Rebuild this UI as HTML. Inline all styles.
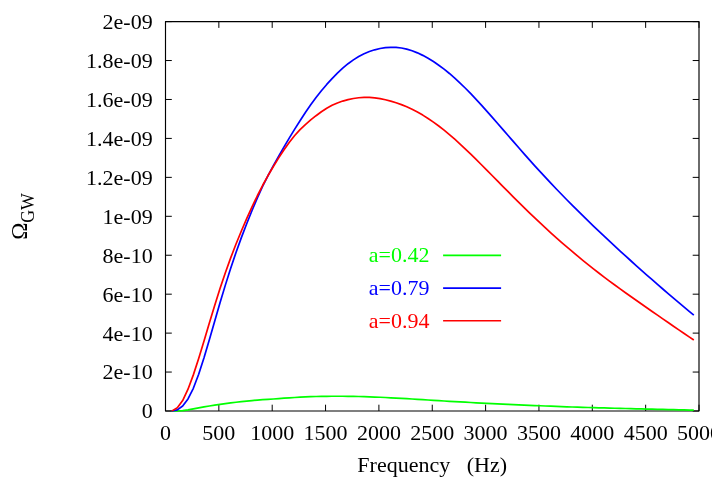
<!DOCTYPE html>
<html><head><meta charset="utf-8"><title>Omega GW</title>
<style>
html,body{margin:0;padding:0;background:#fff;}
svg{display:block;will-change:transform;}
text{font-family:"Liberation Serif",serif;}
</style></head><body>
<svg width="712" height="498" viewBox="0 0 712 498">
<rect x="0" y="0" width="712" height="498" fill="#fff"/>
<path d="M165.50,411.00h6.3 M699.00,411.00h-6.3 M165.50,372.06h6.3 M699.00,372.06h-6.3 M165.50,333.12h6.3 M699.00,333.12h-6.3 M165.50,294.18h6.3 M699.00,294.18h-6.3 M165.50,255.24h6.3 M699.00,255.24h-6.3 M165.50,216.30h6.3 M699.00,216.30h-6.3 M165.50,177.36h6.3 M699.00,177.36h-6.3 M165.50,138.42h6.3 M699.00,138.42h-6.3 M165.50,99.48h6.3 M699.00,99.48h-6.3 M165.50,60.54h6.3 M699.00,60.54h-6.3 M165.50,21.60h6.3 M699.00,21.60h-6.3 M165.50,411.00v-6.3 M165.50,21.60v6.3 M218.85,411.00v-6.3 M218.85,21.60v6.3 M272.20,411.00v-6.3 M272.20,21.60v6.3 M325.55,411.00v-6.3 M325.55,21.60v6.3 M378.90,411.00v-6.3 M378.90,21.60v6.3 M432.25,411.00v-6.3 M432.25,21.60v6.3 M485.60,411.00v-6.3 M485.60,21.60v6.3 M538.95,411.00v-6.3 M538.95,21.60v6.3 M592.30,411.00v-6.3 M592.30,21.60v6.3 M645.65,411.00v-6.3 M645.65,21.60v6.3 M699.00,411.00v-6.3 M699.00,21.60v6.3" stroke="#000" stroke-width="1.0" fill="none"/>
<path d="M165.5,21.6 H699.0 V411.0 H165.5 Z" stroke="#000" stroke-width="1.15" fill="none" stroke-linejoin="round"/>
<text x="152.7" y="418.40" font-size="22" text-anchor="end">0</text>
<text x="152.7" y="379.46" font-size="22" text-anchor="end">2e-10</text>
<text x="152.7" y="340.52" font-size="22" text-anchor="end">4e-10</text>
<text x="152.7" y="301.58" font-size="22" text-anchor="end">6e-10</text>
<text x="152.7" y="262.64" font-size="22" text-anchor="end">8e-10</text>
<text x="152.7" y="223.70" font-size="22" text-anchor="end">1e-09</text>
<text x="152.7" y="184.76" font-size="22" text-anchor="end">1.2e-09</text>
<text x="152.7" y="145.82" font-size="22" text-anchor="end">1.4e-09</text>
<text x="152.7" y="106.88" font-size="22" text-anchor="end">1.6e-09</text>
<text x="152.7" y="67.94" font-size="22" text-anchor="end">1.8e-09</text>
<text x="152.7" y="29.00" font-size="22" text-anchor="end">2e-09</text>
<text x="165.50" y="440.4" font-size="22" text-anchor="middle">0</text>
<text x="218.85" y="440.4" font-size="22" text-anchor="middle">500</text>
<text x="272.20" y="440.4" font-size="22" text-anchor="middle">1000</text>
<text x="325.55" y="440.4" font-size="22" text-anchor="middle">1500</text>
<text x="378.90" y="440.4" font-size="22" text-anchor="middle">2000</text>
<text x="432.25" y="440.4" font-size="22" text-anchor="middle">2500</text>
<text x="485.60" y="440.4" font-size="22" text-anchor="middle">3000</text>
<text x="538.95" y="440.4" font-size="22" text-anchor="middle">3500</text>
<text x="592.30" y="440.4" font-size="22" text-anchor="middle">4000</text>
<text x="645.65" y="440.4" font-size="22" text-anchor="middle">4500</text>
<text x="699.00" y="440.4" font-size="22" text-anchor="middle">5000</text>
<text x="432.2" y="472.4" font-size="22" text-anchor="middle" xml:space="preserve">Frequency   (Hz)</text>
<text transform="translate(27.1,239.7) rotate(-90)" font-size="23">Ω</text>
<text transform="translate(33.8,222.8) rotate(-90)" font-size="17.8">GW</text>
<text x="429.5" y="262.4" font-size="22" text-anchor="end" fill="#00ff00">a=0.42</text>
<path d="M443.1,255.3H501.1" stroke="#00ff00" stroke-width="1.7" fill="none"/>
<text x="429.5" y="295.2" font-size="22" text-anchor="end" fill="#0000ff">a=0.79</text>
<path d="M443.1,288.1H501.1" stroke="#0000ff" stroke-width="1.7" fill="none"/>
<text x="429.5" y="327.8" font-size="22" text-anchor="end" fill="#ff0000">a=0.94</text>
<path d="M443.1,320.75H501.1" stroke="#ff0000" stroke-width="1.7" fill="none"/>
<path d="M172.00,411.00 L177.34,411.00 L182.67,410.71 L188.01,409.87 L193.34,408.80 L198.68,407.82 L204.01,406.90 L209.35,405.98 L214.68,405.14 L220.02,404.35 L225.35,403.61 L230.69,402.90 L236.02,402.23 L241.36,401.60 L246.69,401.04 L252.03,400.53 L257.36,400.09 L262.70,399.70 L268.03,399.35 L273.37,398.98 L278.70,398.60 L284.04,398.22 L289.37,397.84 L294.71,397.49 L300.04,397.17 L305.38,396.90 L310.71,396.66 L316.05,396.49 L321.38,396.36 L326.72,396.28 L332.05,396.24 L337.39,396.24 L342.72,396.26 L348.06,396.31 L353.39,396.40 L358.73,396.52 L364.06,396.66 L369.40,396.83 L374.73,397.04 L380.07,397.26 L385.40,397.52 L390.74,397.79 L396.07,398.08 L401.41,398.38 L406.74,398.70 L412.08,399.02 L417.41,399.35 L422.75,399.68 L428.08,400.01 L433.42,400.34 L438.75,400.66 L444.09,400.99 L449.42,401.30 L454.76,401.61 L460.09,401.92 L465.43,402.21 L470.76,402.50 L476.10,402.78 L481.43,403.05 L486.77,403.31 L492.10,403.58 L497.44,403.83 L502.77,404.08 L508.11,404.33 L513.44,404.57 L518.78,404.82 L524.11,405.06 L529.45,405.30 L534.78,405.54 L540.12,405.77 L545.45,405.99 L550.79,406.21 L556.12,406.42 L561.46,406.62 L566.79,406.81 L572.13,406.99 L577.46,407.16 L582.80,407.32 L588.13,407.48 L593.47,407.64 L598.80,407.79 L604.14,407.94 L609.47,408.09 L614.81,408.24 L620.14,408.38 L625.48,408.52 L630.81,408.66 L636.15,408.79 L641.48,408.92 L646.82,409.05 L652.15,409.18 L657.49,409.31 L662.82,409.44 L668.16,409.57 L673.49,409.69 L678.83,409.82 L684.16,409.95 L689.50,410.08 L693.80,410.18" stroke="#00ff00" stroke-width="1.7" fill="none" stroke-linejoin="round" stroke-linecap="butt"/>
<path d="M172.00,411.00 L177.34,409.86 L182.67,406.06 L188.01,398.95 L193.34,388.26 L198.68,374.30 L204.01,357.73 L209.35,339.71 L214.68,321.19 L220.02,302.84 L225.35,285.13 L230.69,268.29 L236.02,252.44 L241.36,237.64 L246.69,223.72 L252.03,210.45 L257.36,197.87 L262.70,186.22 L268.03,175.57 L273.37,165.64 L278.70,156.12 L284.04,146.86 L289.37,137.88 L294.71,129.15 L300.04,120.68 L305.38,112.51 L310.71,104.75 L316.05,97.49 L321.38,90.73 L326.72,84.44 L332.05,78.56 L337.39,73.11 L342.72,68.14 L348.06,63.72 L353.39,59.86 L358.73,56.55 L364.06,53.78 L369.40,51.54 L374.73,49.80 L380.07,48.52 L385.40,47.69 L390.74,47.28 L396.07,47.37 L401.41,47.99 L406.74,49.12 L412.08,50.75 L417.41,52.84 L422.75,55.36 L428.08,58.27 L433.42,61.56 L438.75,65.20 L444.09,69.16 L449.42,73.48 L454.76,78.12 L460.09,83.06 L465.43,88.26 L470.76,93.70 L476.10,99.34 L481.43,105.14 L486.77,111.07 L492.10,117.09 L497.44,123.19 L502.77,129.33 L508.11,135.49 L513.44,141.64 L518.78,147.77 L524.11,153.85 L529.45,159.86 L534.78,165.81 L540.12,171.67 L545.45,177.44 L550.79,183.13 L556.12,188.74 L561.46,194.27 L566.79,199.72 L572.13,205.11 L577.46,210.43 L582.80,215.69 L588.13,220.89 L593.47,226.03 L598.80,231.13 L604.14,236.17 L609.47,241.17 L614.81,246.13 L620.14,251.04 L625.48,255.91 L630.81,260.75 L636.15,265.55 L641.48,270.31 L646.82,275.04 L652.15,279.72 L657.49,284.37 L662.82,288.99 L668.16,293.57 L673.49,298.11 L678.83,302.63 L684.16,307.12 L689.50,311.58 L693.80,315.16" stroke="#0000ff" stroke-width="1.7" fill="none" stroke-linejoin="round" stroke-linecap="butt"/>
<path d="M172.00,410.88 L177.34,407.85 L182.67,400.55 L188.01,389.23 L193.34,374.88 L198.68,358.49 L204.01,340.98 L209.35,323.11 L214.68,305.49 L220.02,288.61 L225.35,272.74 L230.69,257.89 L236.02,244.00 L241.36,230.96 L246.69,218.62 L252.03,206.88 L257.36,195.75 L262.70,185.28 L268.03,175.54 L273.37,166.45 L278.70,157.85 L284.04,149.69 L289.37,142.18 L294.71,135.49 L300.04,129.66 L305.38,124.55 L310.71,119.96 L316.05,115.70 L321.38,111.72 L326.72,108.23 L332.05,105.32 L337.39,102.96 L342.72,101.07 L348.06,99.60 L353.39,98.48 L358.73,97.74 L364.06,97.39 L369.40,97.46 L374.73,97.90 L380.07,98.69 L385.40,99.78 L390.74,101.12 L396.07,102.75 L401.41,104.65 L406.74,106.83 L412.08,109.30 L417.41,112.06 L422.75,115.11 L428.08,118.45 L433.42,122.08 L438.75,125.98 L444.09,130.15 L449.42,134.56 L454.76,139.20 L460.09,144.04 L465.43,149.04 L470.76,154.19 L476.10,159.43 L481.43,164.75 L486.77,170.11 L492.10,175.50 L497.44,180.90 L502.77,186.30 L508.11,191.68 L513.44,197.03 L518.78,202.34 L524.11,207.60 L529.45,212.79 L534.78,217.92 L540.12,222.96 L545.45,227.91 L550.79,232.78 L556.12,237.56 L561.46,242.27 L566.79,246.89 L572.13,251.45 L577.46,255.93 L582.80,260.34 L588.13,264.65 L593.47,268.89 L598.80,273.04 L604.14,277.10 L609.47,281.09 L614.81,285.02 L620.14,288.89 L625.48,292.71 L630.81,296.50 L636.15,300.27 L641.48,304.01 L646.82,307.74 L652.15,311.45 L657.49,315.15 L662.82,318.84 L668.16,322.52 L673.49,326.19 L678.83,329.84 L684.16,333.48 L689.50,337.10 L693.80,340.01" stroke="#ff0000" stroke-width="1.7" fill="none" stroke-linejoin="round" stroke-linecap="butt"/>
</svg>
</body></html>
